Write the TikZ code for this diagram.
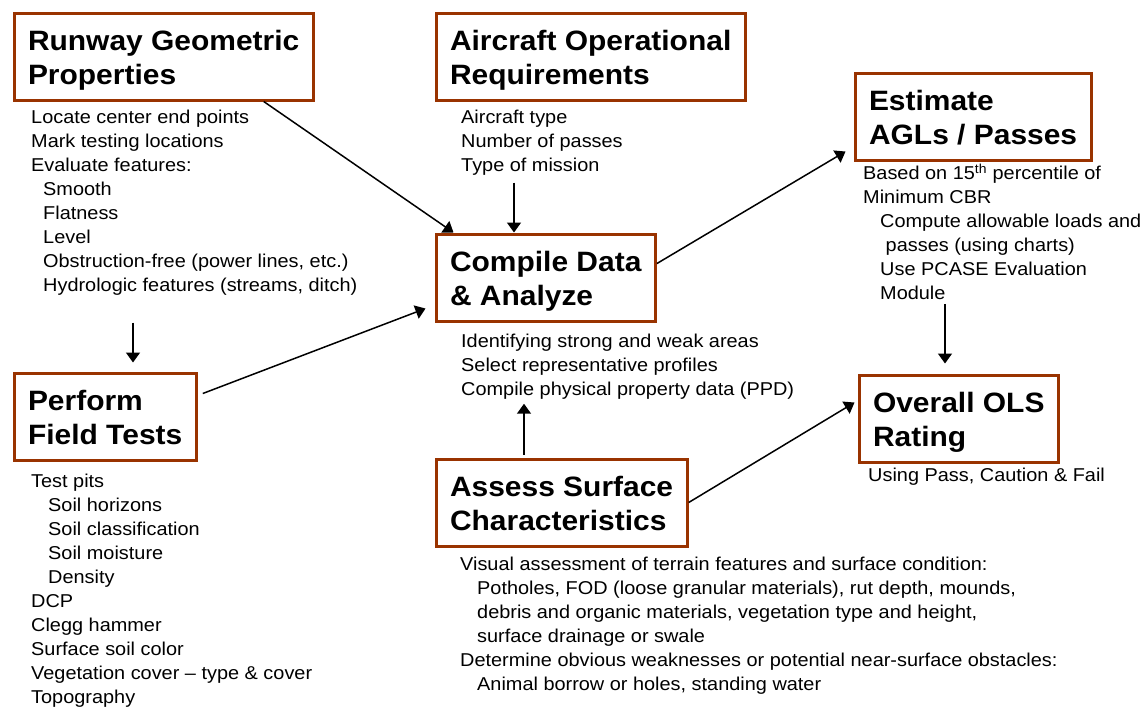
\documentclass[tikz,border=0pt]{standalone}
\usepackage{fontspec}
\setmainfont{Liberation Sans}[FakeStretch=1.07]
\usetikzlibrary{arrows.meta,positioning}
\definecolor{rust}{RGB}{153,51,0}
\newcommand{\ind}{\hspace*{17pt}}

\begin{document}
\begin{tikzpicture}[x=1pt, y=-1pt,
    hdr/.style={draw=rust, line width=3pt, fill=white, anchor=north west,
                inner xsep=14pt, inner ysep=0pt, minimum height=87pt, align=left,
                font=\fontsize{28}{34}\selectfont\bfseries,
                execute at begin node=\rule[-7pt]{0pt}{70pt}},
    lst/.style={anchor=north west, inner sep=0pt, align=left,
                font=\fontsize{18.6}{24}\selectfont},
    arrow/.style={-{Triangle[length=10pt,width=14pt]}, line width=1.5pt},
  ]
  \useasboundingbox (0,0) rectangle (1144,707);

  \node[hdr] (rgp) at (12.5,11.5)  {Runway Geometric\\Properties};
  \node[hdr] (aor) at (434.5,11.5) {Aircraft Operational\\Requirements};
  \node[hdr] (cda) at (434.5,232.5) {Compile Data\\\& Analyze};
  \node[hdr] (eap) at (853.5,71.5) {Estimate\\AGLs / Passes};
  \node[hdr] (ols) at (857.5,373.5) {Overall OLS\\Rating};
  \node[hdr] (pft) at (12.5,371.5) {Perform\\Field Tests};
  \node[hdr] (asc) at (434.5,457.5) {Assess Surface\\Characteristics};

  \node[lst] (rgplist) at (31,110) {Locate center end points\\Mark testing locations\\
    Evaluate features:\\\hspace*{12pt}Smooth\\\hspace*{12pt}Flatness\\\hspace*{12pt}Level\\
    \hspace*{12pt}Obstruction-free (power lines, etc.)\\
    \hspace*{12pt}Hydrologic features (streams, ditch)};
  \node[lst] (aorlist) at (461,110) {Aircraft type\\Number of passes\\Type of mission};
  \node[lst] (cdalist) at (461,334) {Identifying strong and weak areas\\
    Select representative profiles\\Compile physical property data (PPD)};
  \node[lst] (eaplist) at (863,163.5) {Based on 15\textsuperscript{th} percentile of\\Minimum CBR\\
    \ind Compute allowable loads and\\\ind\ passes (using charts)\\
    \ind Use PCASE Evaluation\\\ind Module};
  \node[lst] (olslist) at (868,468) {Using Pass, Caution \& Fail};
  \node[lst] (pftlist) at (31,474) {Test pits\\\ind Soil horizons\\\ind Soil classification\\
    \ind Soil moisture\\\ind Density\\DCP\\Clegg hammer\\Surface soil color\\
    Vegetation cover -- type \& cover\\Topography};
  \node[lst] (asclist) at (460,557) {Visual assessment of terrain features and surface condition:\\
    \ind Potholes, FOD (loose granular materials), rut depth, mounds,\\
    \ind debris and organic materials, vegetation type and height,\\
    \ind surface drainage or swale\\
    Determine obvious weaknesses or potential near-surface obstacles:\\
    \ind Animal borrow or holes, standing water};

  \draw[arrow] ([xshift=100pt]rgp.south) -- ([xshift=19pt]cda.north west);
  \draw[arrow] ([xshift=53pt,yshift=-7pt]aorlist.south west) -- ([xshift=79.5pt]cda.north west);
  \draw[arrow] ([xshift=102pt,yshift=-27pt]rgplist.south west) -- ([xshift=120.5pt,yshift=9pt]pft.north west);
  \draw[arrow] ([xshift=5pt,yshift=23pt]pft.east) -- ([xshift=-9pt,yshift=-31pt]cda.west);
  \draw[arrow] ([yshift=14pt]cda.east) -- ([xshift=-8pt,yshift=10pt]eap.south west);
  \draw[arrow] ([xshift=82pt,yshift=-4pt]eaplist.south west) -- ([xshift=87.5pt,yshift=10pt]ols.north west);
  \draw[arrow] ([xshift=89.5pt,yshift=3pt]asc.north west) -- ([xshift=63pt,yshift=-4pt]cdalist.south west);
  \draw[arrow] (asc.east) -- ([xshift=-3pt,yshift=16pt]ols.west);
\end{tikzpicture}
\end{document}
